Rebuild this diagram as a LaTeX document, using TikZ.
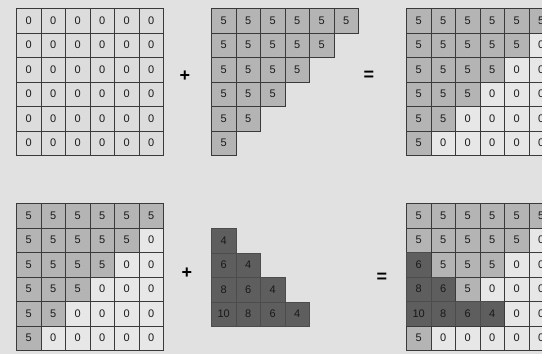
\documentclass[tikz,border=0pt]{standalone}
\usepackage{fontspec}
\setmainfont{Liberation Sans}
\usepackage{tikz}
\usepackage{xcolor}
\definecolor{bggray}{HTML}{E1E1E1}
\definecolor{zerogray}{HTML}{DCDCDC}
\definecolor{litegray}{HTML}{E7E7E7}
\definecolor{midgray}{HTML}{B4B4B4}
\definecolor{deepgray}{HTML}{5E5E5E}
\definecolor{linegray}{HTML}{3A3A3A}

\tikzset{
  cell/.style={draw=linegray, line width=0.8pt, minimum size=24.5pt, inner sep=0pt,
    anchor=north west, text=black!90, font=\fontsize{11}{13}\selectfont},
  zerocell/.style={cell, fill=zerogray},
  litecell/.style={cell, fill=litegray},
  fivecell/.style={cell, fill=midgray},
  deepcell/.style={cell, fill=deepgray, draw=black!70},
  sign/.style={font=\bfseries\fontsize{18}{18}\selectfont, inner sep=0pt}
}

\begin{document}
\begin{tikzpicture}[x=1pt,y=-1pt]
\fill[bggray] (0,0) rectangle (542,354);
\useasboundingbox (0,0) rectangle (542,354);
\clip (0,0) rectangle (542,354);

% top row: zeros + triangle of fives = result
\foreach \r in {0,...,5}
  \foreach \c in {0,...,5}
    \node[zerocell] (A-\r-\c) at ({16+24.5*\c},{8+24.5*\r}) {0};
\node[sign] (plusA) at (185,76) {+};
\foreach \r in {0,...,5}
  \foreach \c in {0,...,5}{
    \ifnum\numexpr\c+\r\relax<6
      \node[fivecell] (B-\r-\c) at ({211+24.5*\c},{8+24.5*\r}) {5};
    \fi}
\node[sign] (eqA) at (369,76) {=};
\foreach \r in {0,...,5}
  \foreach \c in {0,...,5}{
    \ifnum\numexpr\c+\r\relax<6
      \node[fivecell] (C-\r-\c) at ({406+24.5*\c},{8+24.5*\r}) {5};
    \else
      \node[litecell] (C-\r-\c) at ({406+24.5*\c},{8+24.5*\r}) {0};
    \fi}

% bottom row: previous result + staircase = new result
\foreach \r in {0,...,5}
  \foreach \c in {0,...,5}{
    \ifnum\numexpr\c+\r\relax<6
      \node[fivecell] (D-\r-\c) at ({16+24.5*\c},{203+24.5*\r}) {5};
    \else
      \node[litecell] (D-\r-\c) at ({16+24.5*\c},{203+24.5*\r}) {0};
    \fi}
\node[sign] (plusB) at (187,273) {+};
\foreach \row [count=\r from 0] in {{4},{6,4},{8,6,4},{10,8,6,4}}
  \foreach \v [count=\c from 0] in \row
    \node[deepcell] (E-\r-\c) at ({211+24.5*\c},{228+24.5*\r}) {\v};
\node[sign] (eqB) at (382,278) {=};
\foreach \row [count=\r from 0] in {
    {5/five,5/five,5/five,5/five,5/five,5/five},
    {5/five,5/five,5/five,5/five,5/five,0/lite},
    {6/deep,5/five,5/five,5/five,0/lite,0/lite},
    {8/deep,6/deep,5/five,0/lite,0/lite,0/lite},
    {10/deep,8/deep,6/deep,4/deep,0/lite,0/lite},
    {5/five,0/lite,0/lite,0/lite,0/lite,0/lite}}
  \foreach \v/\s [count=\c from 0] in \row
    \node[\s cell] (F-\r-\c) at ({406+24.5*\c},{203+24.5*\r}) {\v};
\end{tikzpicture}
\end{document}
